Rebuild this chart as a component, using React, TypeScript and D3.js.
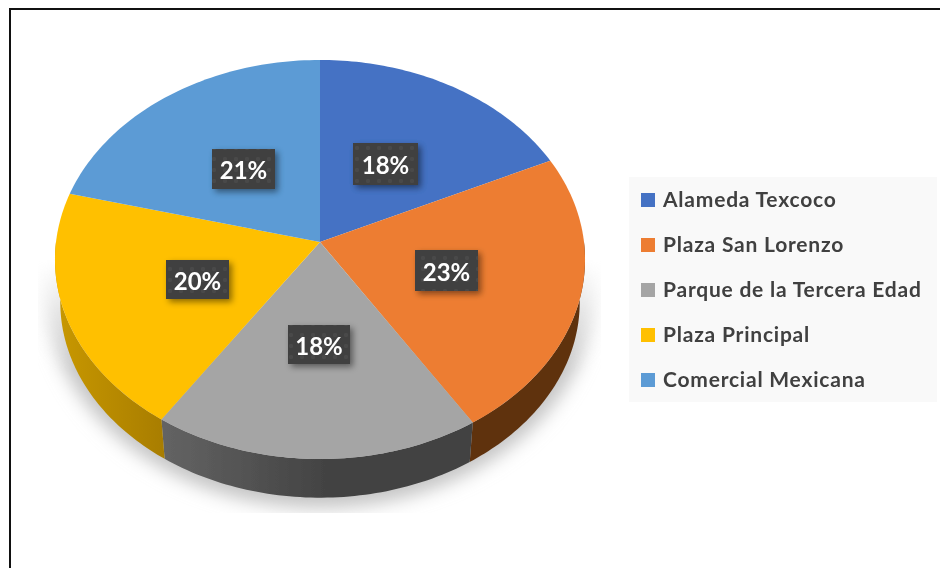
import React from "react";
import * as d3 from "d3";

const categories = ["Alameda Texcoco", "Plaza San Lorenzo", "Parque de la Tercera Edad", "Plaza Principal", "Comercial Mexicana"];
const values = [18, 23, 18.4, 19.6, 21];
const colors = ["#4472c4", "#ed7d31", "#a5a5a5", "#ffc000", "#5b9bd5"];
const labelBoxes = [
  { x: 353, y: 143, w: 65, h: 42 },
  { x: 415, y: 250, w: 63, h: 41 },
  { x: 288, y: 325, w: 62, h: 39 },
  { x: 166, y: 260, w: 63, h: 39 },
  { x: 212, y: 149, w: 63, h: 40 },
];

const CX = 320, CY = 242, R = 264, RY = 198, K = 0.0877;
const project = (a: number, s = 1, dy = 0): [number, number] => {
  const u = Math.sin(a), v = -Math.cos(a), w = 1 - K * v;
  return [CX + (s * R * u) / w, CY + dy + (s * RY * v) / w];
};
const arcPoints = (a0: number, a1: number, s = 1, dy = 0) =>
  d3.range(0, 61).map((i) => project(a0 + ((a1 - a0) * i) / 60, s, dy));

const line = d3.line();
const pie = d3.pie<number>().sort(null)(values);
const legendY = d3.scalePoint<string>().domain(categories).range([200, 380]);
const SB = 0.98, DY = 43;

export default function App() {
  return (
    <svg width={940} height={568} style={{ position: "fixed", left: 0, top: 0 }}>
      <defs>
        <filter id="blur" x="-20%" y="-20%" width="140%" height="140%"><feGaussianBlur stdDeviation="9" /></filter>
        <filter id="soft" x="-30%" y="-30%" width="170%" height="170%"><feDropShadow dx="3" dy="3" stdDeviation="3" floodColor="#000" floodOpacity="0.45" /></filter>
        <filter id="tiny" filterUnits="userSpaceOnUse" x="0" y="0" width="940" height="568"><feGaussianBlur stdDeviation="0.4" /></filter>
        <linearGradient id="fade" gradientUnits="userSpaceOnUse" x1="0" y1="260" x2="0" y2="370">
          <stop offset="0" stopColor="#fff" stopOpacity="0" /><stop offset="1" stopColor="#fff" stopOpacity="1" />
        </linearGradient>
        <mask id="fadeMask"><rect x="0" y="0" width="940" height="568" fill="url(#fade)" /></mask>
        <clipPath id="shadowClip"><rect x="38" y="200" width="563" height="313" /></clipPath>
        <linearGradient id="wall2" gradientUnits="userSpaceOnUse" x1="60" y1="0" x2="165" y2="0">
          <stop offset="0" stopColor="#c79700" /><stop offset="1" stopColor="#a87d00" />
        </linearGradient>
        <linearGradient id="wall1" gradientUnits="userSpaceOnUse" x1="165" y1="0" x2="330" y2="0">
          <stop offset="0" stopColor="#636363" /><stop offset="1" stopColor="#424242" />
        </linearGradient>
        <pattern id="dots" width="11" height="11" patternUnits="userSpaceOnUse">
          <rect width="11" height="11" fill="#404040" />
          <circle cx="5" cy="5" r="2" fill="#4a4a4a" />
        </pattern>
      </defs>
      <rect x="0" y="0" width="940" height="568" fill="#fff" />
      <path d="M10 568V9H940" fill="none" stroke="#111" strokeWidth="2" />

      <g clipPath="url(#shadowClip)">
        <g mask="url(#fadeMask)">
          <ellipse cx={320} cy={288} rx={275} ry={220} fill="#c4c4c4" filter="url(#blur)" />
        </g>
      </g>

      <g filter="url(#tiny)">
        {[
          { i: 1, fill: "#5f3210" },
          { i: 2, fill: "url(#wall1)" },
          { i: 3, fill: "url(#wall2)" },
        ].map(({ i, fill }) => {
          const a0 = Math.max(pie[i].startAngle, Math.PI / 2);
          const a1 = Math.min(pie[i].endAngle, (3 * Math.PI) / 2);
          const top = arcPoints(a0, a1);
          const bottom = arcPoints(a1, a0, SB, DY);
          return <path key={i} d={line([...top, ...bottom])! + "Z"} fill={fill} />;
        })}

        {pie.map((p, i) => (
          <path
            key={i}
            d={line([[CX, CY], ...arcPoints(p.startAngle, p.endAngle)])! + "Z"}
            fill={colors[i]}
          />
        ))}

        {pie.map((p, i) => {
          const b = labelBoxes[i];
          return (
            <g key={i}>
              <rect x={b.x} y={b.y} width={b.w} height={b.h} fill="url(#dots)" filter="url(#soft)" />
              <text x={b.x + b.w / 2} y={b.y + b.h / 2 + 10} textAnchor="middle" fill="#fff"
                fontFamily="Lato" fontWeight="700" fontSize="24">
                {Math.round(p.value)}%
              </text>
            </g>
          );
        })}

        <rect x={629} y={177} width={308} height={225} fill="#f9f9f9" />
        {categories.map((c, i) => (
          <g key={c}>
            <rect x={641} y={legendY(c)! - 7} width={14} height={14} fill={colors[i]} />
            <text x={663} y={legendY(c)! + 7} fontFamily="Lato" fontWeight="700" fontSize="21"
              letterSpacing="0.78" fill="#404040">{c}</text>
          </g>
        ))}
      </g>
    </svg>
  );
}
